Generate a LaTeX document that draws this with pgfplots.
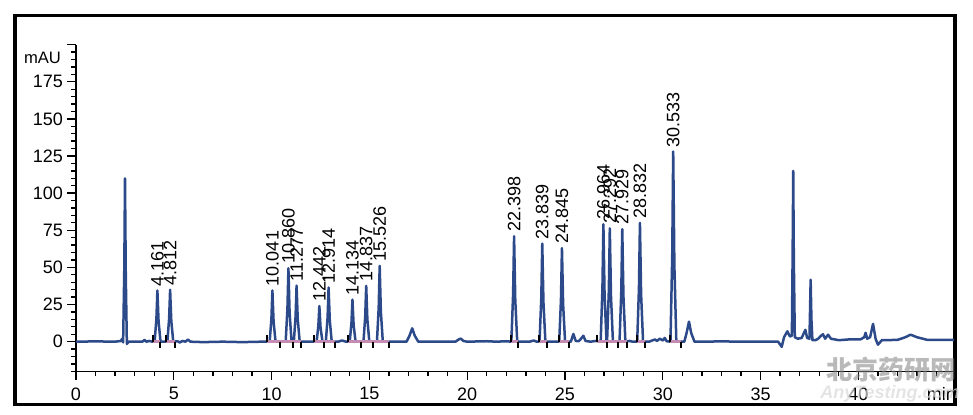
\documentclass[border=0pt]{standalone}
\usepackage{fontspec}
\setmainfont{Liberation Sans}
\newfontfamily\cjk{Noto Sans CJK SC}
\usepackage{pgfplots}
\usepackage{pgfplotstable}
\pgfplotsset{compat=1.18}
\definecolor{trace}{RGB}{44,74,138}
\definecolor{basel}{RGB}{196,140,178}

% chromatogram trace (min, mAU)
\pgfplotstableread{
t y
0 0
1.0 0.2
2.0 0
2.3 0.5
2.36 2
2.41 -0.5
2.47 50
2.505 110
2.545 45
2.6 -1.5
2.7 0
3.4 0
3.5 1.2
3.6 0
3.75 0.5
3.9 0
4.02 0
4.111 15.5
4.161 34.5
4.221 13.8
4.321 0
4.672 0
4.762 15.8
4.812 35
4.872 14
4.972 0
5.2 0.3
5.3 -0.5
5.45 0.5
5.6 0
5.72 1.5
5.85 0
6.5 -0.3
7.5 0
8.5 -0.3
9.5 0
9.901 0
9.991 15.5
10.041 34.5
10.101 13.8
10.201 0
10.72 0
10.81 22.3
10.86 49.4
10.92 19.8
11.02 0
11.137 0
11.227 17
11.277 37.7
11.337 15.1
11.437 0
11.8 0
12.302 0
12.392 10.8
12.442 24
12.502 9.6
12.602 0
12.774 0
12.864 16.5
12.914 36.5
12.974 14.6
13.074 0
13.4 0
13.6 0.8
13.8 0
13.994 0
14.084 12.8
14.134 28.3
14.194 11.3
14.294 0
14.697 0
14.787 17
14.837 37.6
14.897 15
14.997 0
15.386 0
15.476 23
15.526 51
15.586 20.4
15.686 0
16.5 0
16.9 0
17.05 4
17.19 9
17.32 4
17.5 0
18.5 0
19.4 0
19.6 1.8
19.68 2
19.8 0.5
20.0 0
21.0 0.3
21.5 0
22.0 0.3
22.258 0
22.348 32
22.398 71
22.458 28.4
22.558 0
23.2 0
23.4 0.8
23.55 0
23.699 0
23.789 29.7
23.839 66
23.899 26.4
23.999 0
24.705 0
24.795 28.4
24.845 63
24.905 25.2
25.005 0
25.3 0
25.43 5.2
25.55 0.5
25.7 0.3
25.82 2
25.94 4
26.05 0.5
26.3 0
26.6 0.5
26.824 0
26.914 35.6
26.964 79
27.024 31.6
27.124 0
27.152 0
27.242 34.4
27.292 76.3
27.352 30.6
27.452 0
27.65 0
27.789 0
27.879 34.2
27.929 75.8
27.989 30.4
28.089 0
28.3 0.5
28.45 0
28.692 0
28.782 36
28.832 80
28.892 32
28.992 0
29.3 0
29.6 1.5
29.7 0.5
29.85 2
30.0 0.8
30.1 2.5
30.2 0.3
30.393 0
30.483 57.6
30.533 128
30.593 51.2
30.693 0
31.05 0
31.1 0
31.22 6
31.34 13.5
31.45 6
31.62 0
32.0 0
33.0 0.2
34.0 0
35.0 0
35.9 0
36.08 -3.5
36.2 3
36.37 7
36.5 3.5
36.6 4
36.64 60
36.67 115
36.70 55
36.75 3
36.9 2
37.1 2.5
37.29 8
37.38 2.5
37.5 2
37.52 15
37.56 41.7
37.6 15
37.65 1
37.8 1
37.95 2
38.05 3.5
38.19 5
38.3 2
38.45 4.7
38.6 2
39.0 1
39.5 1.5
40.1 1.5
40.3 3
40.37 6
40.45 2
40.6 3
40.75 12
40.88 2
41.0 -2
41.2 1
42.0 1.2
42.4 3
42.67 4.7
43.0 3
43.5 1.3
44.9 1.3
}\chrom

% labelled peaks
\pgfplotstableread{
t y lab
4.161 34.5 4.161
4.812 35 4.812
10.041 34.5 10.041
10.860 49.4 10.860
11.277 37.7 11.277
12.442 24 12.442
12.914 36.5 12.914
14.134 28.3 14.134
14.837 37.6 14.837
15.526 51 15.526
22.398 71 22.398
23.839 66 23.839
24.845 63 24.845
26.964 79 26.964
27.292 76.3 27.292
27.929 75.8 27.929
28.832 80 28.832
30.533 128 30.533
}\peaks

% peak start (up) and end (down) marks
\pgfplotstableread{
t z up dn
3.92 0 4.5 0
4.29 0 0 4.5
4.60 0 4.5 0
5.06 0 0 4.5
9.75 0 4.5 0
10.43 0 0 4.5
11.07 0 0 4.5
11.49 0 0 4.5
12.15 0 4.5 0
12.66 0 0 4.5
13.24 0 0 4.5
13.92 0 4.5 0
14.55 0 0 4.5
15.18 0 0 4.5
16.0 0 0 4.5
22.22 0 4.5 0
22.61 0 0 4.5
23.67 0 4.5 0
24.06 0 0 4.5
24.69 0 4.5 0
25.20 0 0 4.5
26.65 0 4.5 0
27.13 0 0 4.5
27.73 0 0 4.5
28.15 0 0 4.5
28.66 0 4.5 0
29.09 0 0 4.5
30.37 0 4.5 0
30.91 0 0 4.5
}\marks

\begin{document}
\begin{tikzpicture}[x=1pt,y=1pt]
\path[use as bounding box] (0,0) rectangle (486.5,207.5);
\draw[line width=1.7pt, black] (7.5,5.35) rectangle (477.5,199.6);
\begin{axis}[
  at={(38pt,21.8pt)}, anchor=south west,
  scale only axis, width=439.1pt, height=163.4pt,
  xmin=0, xmax=44.9, ymin=-20, ymax=200,
  axis x line*=bottom, axis y line*=left,
  axis line style={line width=0.8pt, black},
  xtick={0,5,...,40}, minor xtick={0,1,...,44},
  ytick={0,25,...,175}, minor ytick={-20,-15,...,195},
  extra y ticks={200}, extra y tick labels={},
  tick align=outside,
  major tick length=4.5pt, minor tick length=2.5pt,
  every tick/.style={black, line width=0.65pt},
  tick label style={font=\fontsize{9}{10}\selectfont},
  yticklabel style={xshift=1.5pt},
  /pgf/number format/assume math mode=true,
  ylabel={mAU},
  ylabel style={at={(axis description cs:0,0.959)}, rotate=-90, anchor=east,
    xshift=-4pt, font=\fontsize{8.3}{10}\selectfont},
  xlabel={min},
  xlabel style={at={(axis description cs:0.9855,0)}, anchor=north,
    yshift=-4.5pt, font=\fontsize{9}{10}\selectfont},
]
\addplot[trace, line width=1.25pt, line join=round] table[x=t, y=y] {\chrom};
% integration baselines
\addplot[basel, line width=1.3pt, unbounded coords=jump] coordinates {
  (3.92,0) (4.29,0) (4.29,nan)
  (4.60,0) (5.06,0) (5.06,nan)
  (9.75,0) (11.49,0) (11.49,nan)
  (12.15,0) (13.24,0) (13.24,nan)
  (13.92,0) (16.0,0) (16.0,nan)
  (22.22,0) (22.61,0) (22.61,nan)
  (23.67,0) (24.06,0) (24.06,nan)
  (24.69,0) (25.20,0) (25.20,nan)
  (26.65,0) (28.15,0) (28.15,nan)
  (28.66,0) (29.09,0) (29.09,nan)
  (30.37,0) (30.91,0)
};
\addplot[draw=none, mark=none, forget plot,
  error bars/.cd, y dir=plus, y explicit, error mark=none,
  error bar style={black, line width=1pt}]
  table[x=t, y=z, y error=up] {\marks};
\addplot[draw=none, mark=none, forget plot,
  error bars/.cd, y dir=minus, y explicit, error mark=none,
  error bar style={black, line width=1pt}]
  table[x=t, y=z, y error=dn] {\marks};
\addplot[draw=none, mark=none, nodes near coords, point meta=explicit symbolic,
  every node near coord/.append style={rotate=90, anchor=west, inner sep=2pt,
    black, font=\fontsize{9}{10}\selectfont}]
  table[x=t, y=y, meta=lab] {\peaks};
\end{axis}
\node[text=gray, opacity=0.55, font=\cjk\bfseries\fontsize{13}{14}\selectfont] at (445.5,22.5) {北京药研网};
\node[text=gray!30, opacity=0.7, font=\bfseries\itshape\fontsize{9}{10}\selectfont] at (445,10.5) {AnyTesting.com};
\end{tikzpicture}
\end{document}
